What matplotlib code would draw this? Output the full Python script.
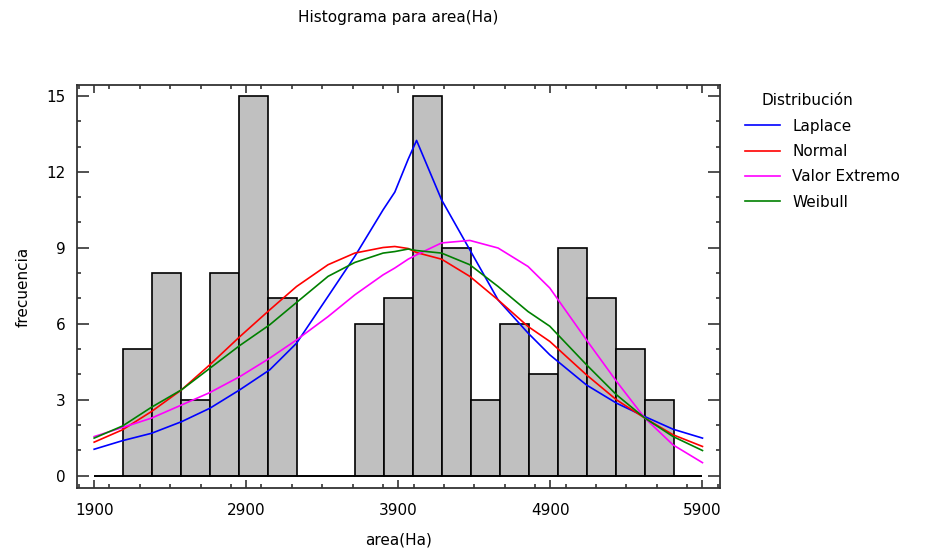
import numpy as np
import matplotlib
matplotlib.use("Agg")
import matplotlib.pyplot as plt
from matplotlib.ticker import MultipleLocator

# histogram: 21 classes between 1900 and 5900
lim_inf = 1900
lim_sup = 5900
n_clases = 21
frecuencias = [0, 5, 8, 3, 8, 15, 7, 0, 0, 6, 7, 15, 9, 3, 6, 4, 9, 7, 5, 3, 0]

# fitted curves
x_curva = [1900, 2087, 2277, 2475, 2661, 2858, 3055, 3231, 3438, 3614, 3800, 3877,
           3965, 4020, 4184, 4370, 4556, 4753, 4896, 5137, 5335, 5521, 5707, 5900]
laplace = [1.04, 1.38, 1.67, 2.13, 2.66, 3.39, 4.18, 5.23, 7.08, 8.66, 10.5, 11.2,
           12.5, 13.24, 10.9, 8.92, 6.94, 5.63, 4.77, 3.58, 2.86, 2.33, 1.83, 1.48]
normal = [1.32, 1.81, 2.53, 3.39, 4.38, 5.49, 6.55, 7.47, 8.33, 8.79, 9.01, 9.05,
          8.97, 8.81, 8.55, 7.87, 6.94, 5.89, 5.30, 3.98, 2.99, 2.27, 1.61, 1.15]
valor_extremo = [1.54, 1.90, 2.27, 2.79, 3.28, 3.91, 4.64, 5.36, 6.28, 7.14, 7.93, 8.20,
                 8.55, 8.72, 9.19, 9.29, 8.99, 8.26, 7.41, 5.36, 3.72, 2.27, 1.21, 0.51]
weibull = [1.48, 1.96, 2.70, 3.39, 4.24, 5.14, 5.96, 6.84, 7.87, 8.42, 8.79, 8.85,
           8.95, 8.89, 8.79, 8.33, 7.47, 6.48, 5.90, 4.38, 3.19, 2.27, 1.54, 0.99]

plt.rcParams['font.family'] = ['DejaVu Sans']

fig = plt.figure(figsize=(9.5, 5.52), dpi=100)
ax = fig.add_axes([0.0807, 0.116, 0.677, 0.730])

bordes = np.linspace(lim_inf, lim_sup, n_clases + 1)
ax.bar(bordes[:-1], frecuencias, width=np.diff(bordes), align='edge',
       color='#c0c0c0', edgecolor='black', linewidth=1.2, zorder=2)
ax.hlines(0, lim_inf, lim_sup, color='black', linewidth=1.2, zorder=3)

ax.plot(x_curva, laplace, color='#0000ff', lw=1.2, label='Laplace', zorder=4)
ax.plot(x_curva, normal, color='#ff0000', lw=1.2, label='Normal', zorder=4)
ax.plot(x_curva, valor_extremo, color='#ff00ff', lw=1.2, label='Valor Extremo', zorder=4)
ax.plot(x_curva, weibull, color='#008000', lw=1.2, label='Weibull', zorder=4)

ax.set_xlim(1785, 6014)
ax.set_ylim(-0.49, 15.43)
ax.set_xticks([1900, 2900, 3900, 4900, 5900])
ax.set_yticks([0, 3, 6, 9, 12, 15])
ax.xaxis.set_minor_locator(MultipleLocator(200))
ax.yaxis.set_minor_locator(MultipleLocator(1))
ax.tick_params(axis='both', which='both', direction='in', top=True, right=True,
               labelsize=11, width=1.1, color='#222222')
ax.tick_params(axis='x', which='major', length=6)
ax.tick_params(axis='y', which='major', length=8.5)
ax.tick_params(axis='both', which='minor', length=3)
ax.tick_params(axis='x', pad=11)
ax.tick_params(axis='y', pad=8)
for s in ax.spines.values():
    s.set_linewidth(1.3)
    s.set_color('#333333')

ax.set_xlabel('area(Ha)', fontsize=11, labelpad=10)
ax.set_ylabel('frecuencia', fontsize=11, labelpad=11)
fig.text(0.419, 0.969, 'Histograma para area(Ha)', ha='center', va='center', fontsize=11)

leg = ax.legend(loc='upper left', bbox_to_anchor=(0.784, 0.831),
                bbox_transform=fig.transFigure, frameon=False, title='Distribución',
                fontsize=11, title_fontsize=11, handlelength=2.3, handletextpad=0.8,
                labelspacing=0.68, borderpad=0, borderaxespad=0, alignment='left')
leg.get_title().set_position((17, 0))

fig.savefig('out.png', dpi=100)
